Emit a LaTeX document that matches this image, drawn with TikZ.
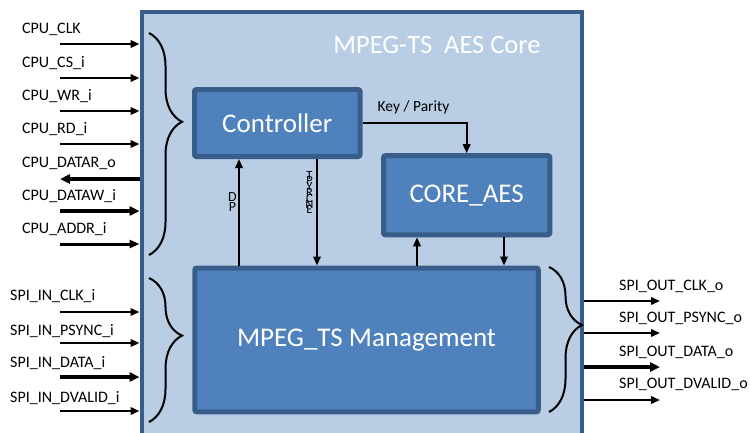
\documentclass[tikz,border=0pt]{standalone}
\usepackage{fontspec}
\setmainfont{Carlito}
\usetikzlibrary{arrows.meta,decorations.pathreplacing}
\definecolor{outerfill}{HTML}{B9CDE5}
\definecolor{boxfill}{HTML}{4F81BD}
\definecolor{boxline}{HTML}{385D8A}
\newcommand\tightlines{\lineskiplimit=-50pt\relax}
\begin{document}
\begin{tikzpicture}[x=1pt,y=-1pt,
  blk/.style={draw=boxline,fill=boxfill,line width=5pt,rounded corners=2pt,text=white,font=\fontsize{27}{32}\selectfont,inner sep=0pt},
  sig/.style={font=\fontsize{16}{18}\selectfont,anchor=base west,inner sep=0pt},
  thinarr/.style={line width=2pt,-{Triangle[length=9pt,width=7.5pt]}},
  thickarr/.style={line width=4pt,-{Triangle[length=10pt,width=9pt]}},
  midarr/.style={line width=3pt,-{Triangle[length=10pt,width=8pt]}},
  br/.style={decorate,decoration={brace,amplitude=33pt,aspect=0.4},line width=2pt},
  vtext/.style={inner sep=0pt,align=center}]
\clip (0,0) rectangle (750,432);
\fill[white] (0,0) rectangle (750,432);
% outer core
\node[draw=boxline,fill=outerfill,line width=4pt,minimum width=440.5pt,minimum height=440pt,anchor=north west,inner sep=0pt] (core) at (139.5,10) {};
\node[text=white,font=\fontsize{26.5}{30}\selectfont,inner sep=0pt] (title) at (437,45) {MPEG-TS\ \ AES Core};
% blocks
\node[blk,minimum width=165.5pt,minimum height=67pt] (ctrl) at (277.25,123) {Controller};
\node[blk,minimum width=166.3pt,minimum height=79.1pt] (aes) at (466.65,195.25) {CORE\_AES};
\node[blk,minimum width=343.5pt,minimum height=143.8pt] (mpeg) at (366.55,339.9) {MPEG\_TS Management};
% internal connectors
\draw[thinarr] (ctrl.east) -| (aes.north);
\node[font=\fontsize{15.5}{18}\selectfont,inner sep=0pt] (kp) at (413.5,107) {Key / Parity};
\coordinate (dpx) at (239,0);
\coordinate (tyx) at (317,0);
\coordinate (upx) at (417,0);
\coordinate (dnx) at (504,0);
\draw[thinarr] (dpx |- mpeg.north) -- (dpx |- ctrl.south);
\draw[thinarr] (tyx |- ctrl.south) -- (tyx |- mpeg.north);
\draw[thinarr] (upx |- mpeg.north) -- (upx |- aes.south);
\draw[thinarr] (dnx |- aes.south) -- (dnx |- mpeg.north);
\node[vtext,font={\fontsize{14}{10}\selectfont\tightlines}] (dp) at (232.5,202) {D\\P};
\node[vtext,font={\fontsize{12.5}{5.8}\selectfont\tightlines}] (ty) at (309.5,192.5) {T\\P\\Y\\R\\C\\N\\E};
% braces
\coordinate (b1t) at (149,33);  \coordinate (b1b) at (149,255);
\coordinate (b2t) at (149,278); \coordinate (b2b) at (149,422);
\coordinate (b3t) at (549,267); \coordinate (b3b) at (549,412);
\draw[br] (b1t) -- (b1b);
\draw[br] (b2t) -- (b2b);
\draw[br] (b3t) -- (b3b);
% CPU signals
\node[sig] (l1) at (22,33) {CPU\_CLK};
\node[sig] (l2) at (22,67) {CPU\_CS\_i};
\node[sig] (l3) at (22,100) {CPU\_WR\_i};
\node[sig] (l4) at (22,133) {CPU\_RD\_i};
\node[sig] (l5) at (22,167) {CPU\_DATAR\_o};
\node[sig] (l6) at (22,200) {CPU\_DATAW\_i};
\node[sig] (l7) at (22,233) {CPU\_ADDR\_i};
\coordinate (a1) at (60,44);
\coordinate (a2) at (60,78);
\coordinate (a3) at (60,111);
\coordinate (a4) at (60,144);
\coordinate (a5) at (60,179);
\coordinate (a6) at (60,211);
\coordinate (a7) at (60,244);
\draw[thinarr] (a1) -- (a1 -| core.west);
\draw[thinarr] (a2) -- (a2 -| core.west);
\draw[thinarr] (a3) -- (a3 -| core.west);
\draw[thinarr] (a4) -- (a4 -| core.west);
\draw[thickarr] (a5 -| core.west) -- (a5);
\draw[thickarr] (a6) -- (a6 -| core.west);
\draw[midarr] (a7) -- (a7 -| core.west);
% SPI in
\node[sig] (s1) at (10,300) {SPI\_IN\_CLK\_i};
\node[sig] (s2) at (10,335) {SPI\_IN\_PSYNC\_i};
\node[sig] (s3) at (10,367) {SPI\_IN\_DATA\_i};
\node[sig] (s4) at (10,402) {SPI\_IN\_DVALID\_i};
\coordinate (c1) at (60,312);
\coordinate (c2) at (60,343);
\coordinate (c3) at (60,377);
\coordinate (c4) at (60,411);
\draw[thinarr] (c1) -- (c1 -| core.west);
\draw[thinarr] (c2) -- (c2 -| core.west);
\draw[thickarr] (c3) -- (c3 -| core.west);
\draw[thinarr] (c4) -- (c4 -| core.west);
% SPI out
\node[sig] (o1) at (619,290) {SPI\_OUT\_CLK\_o};
\node[sig] (o2) at (619,322) {SPI\_OUT\_PSYNC\_o};
\node[sig] (o3) at (619,356) {SPI\_OUT\_DATA\_o};
\node[sig] (o4) at (619,388) {SPI\_OUT\_DVALID\_o};
\coordinate (d1) at (660,301);
\coordinate (d2) at (660,333);
\coordinate (d3) at (660,367);
\coordinate (d4) at (660,400);
\draw[thinarr] (d1 -| core.east) -- (d1);
\draw[thinarr] (d2 -| core.east) -- (d2);
\draw[thickarr] (d3 -| core.east) -- (d3);
\draw[thinarr] (d4 -| core.east) -- (d4);
\end{tikzpicture}
\end{document}
